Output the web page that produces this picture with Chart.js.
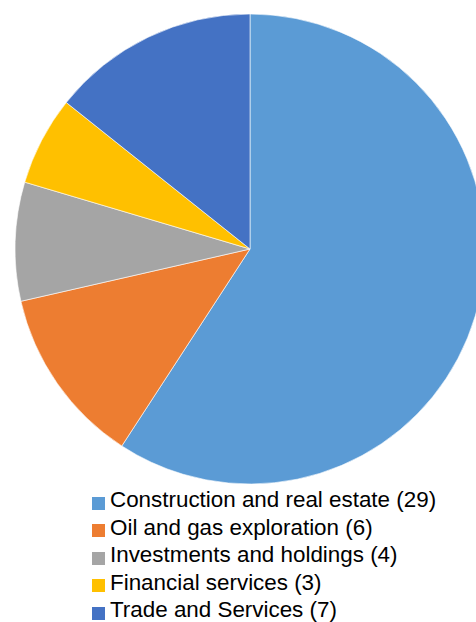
<!DOCTYPE html>
<html>
<head>
<meta charset="utf-8">
<script src="https://cdn.jsdelivr.net/npm/chart.js@4.4.1/dist/chart.umd.min.js"></script>
<style>
    html, body { margin: 0; padding: 0; background: #fff; overflow: hidden; }
    body { width: 476px; height: 622px; position: relative; font-family: 'Liberation Sans', Arial, sans-serif; }
    #pieBox { position: absolute; left: 15px; top: 14px; width: 470px; height: 470px; }
    #legend { position: absolute; left: 92px; top: 486px; }
    .item { height: 27.5px; line-height: 27.5px; font-size: 22.4px; color: #000; white-space: nowrap; position: relative; padding-left: 18px; }
    .item i { position: absolute; left: 0; top: 10.5px; width: 13px; height: 13px; }
</style>
</head>
<body>
<div id="pieBox"><canvas id="pie" width="470" height="470"></canvas></div>
<div id="legend"></div>
<script>
// Data
const sectors = ['Construction and real estate', 'Oil and gas exploration', 'Investments and holdings', 'Financial services', 'Trade and Services'];
const counts = [29, 6, 4, 3, 7];
const sliceColors = ['#5B9BD5', '#ED7D31', '#A5A5A5', '#FFC000', '#4472C4'];

const $ = id => document.getElementById(id);

new Chart($('pie').getContext('2d'), {
    type: 'pie',
    data: {
        labels: sectors.map((s, i) => `${s} (${counts[i]})`),
        datasets: [{
            data: counts,
            backgroundColor: sliceColors,
            borderColor: 'rgba(255,255,255,.8)',
            borderWidth: 0.75
        }]
    },
    options: {
        responsive: false,
        animation: false,
        radius: 235,
        layout: { padding: 0 },
        events: [],
        plugins: {
            legend: { display: false },
            tooltip: { enabled: false }
        }
    }
});

// legend built from the same arrays
$('legend').innerHTML = sectors.map((s, i) =>
    `<div class="item"><i style="background:${sliceColors[i]}"></i>${s} (${counts[i]})</div>`
).join('');
</script>
</body>
</html>
